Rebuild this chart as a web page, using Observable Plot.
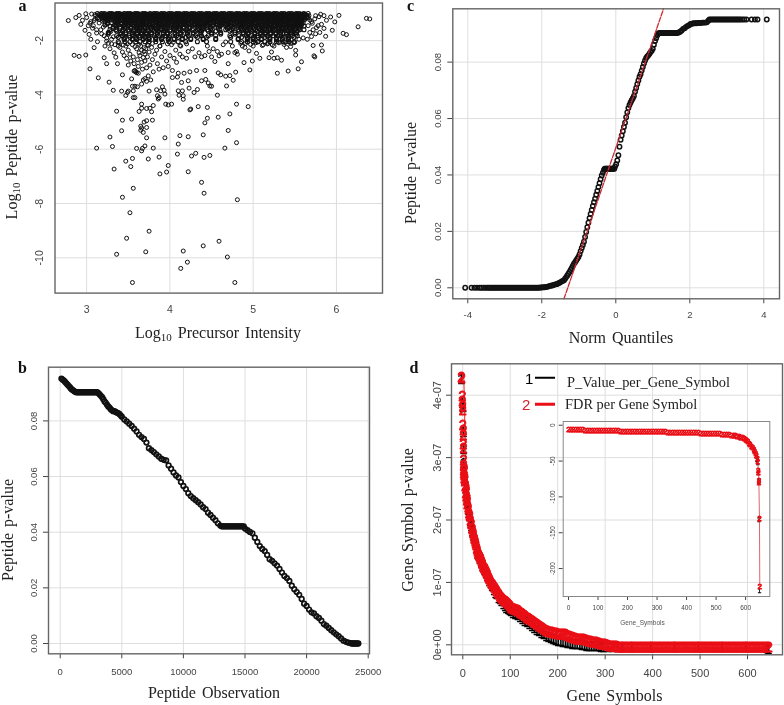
<!DOCTYPE html>
<html><head><meta charset="utf-8">
<script src="https://cdn.jsdelivr.net/npm/d3@7"></script>
<script src="https://cdn.jsdelivr.net/npm/@observablehq/plot@0.6"></script>
<style>
html,body{margin:0;padding:0;background:#fff}
#root{position:relative;width:784px;height:705px;overflow:hidden;background:#fff;filter:blur(.35px)}
#root>svg,#root>figure{position:absolute;margin:0;background:transparent}
.lab{position:absolute;font-family:"Liberation Serif",serif;font-size:16px;color:#222;white-space:nowrap;line-height:1;transform:translate(-50%,-50%);word-spacing:2px}
.lab.r{transform:translate(-50%,-50%) rotate(-90deg)}
.lab sub{font-size:11px;vertical-align:-3px;line-height:0}
.let{position:absolute;font-family:"Liberation Serif",serif;font-weight:bold;font-size:16px;color:#111;line-height:.6;transform:translateX(-50%)}
.leg{position:absolute;line-height:1;white-space:nowrap;transform:translateY(-50%)}
.bar{position:absolute;height:2.5px;transform:translateY(-50%)}
</style></head><body><div id="root"></div>
<script>
// ---------- panel a: sparse points
const aX=[2.78,2.85,2.91,2.99,3.04,3.14,3.27,3.32,3.42,3.47,3.50,3.36,3.43,3.54,3.42,3.28,3.31,3.12,3.33,3.47,3.55,3.53,3.60,3.66,3.67,3.70,3.74,3.80,3.72,3.87,3.88,3.96,3.98,3.94,4.09,4.10,4.12,4.22,4.22,4.26,4.31,4.40,4.41,4.48,4.38,4.41,4.66,4.70,4.80,4.81,4.58,4.45,4.42,4.72,4.80,4.94,4.45,4.34,4.24,4.25,3.56,3.43,3.52,3.75,3.48,3.36,3.71,3.55,4.78,4.13,4.21,4.16,4.40,4.59,4.69,
3.66,3.66,3.63,3.72,3.76,3.80,3.78,3.69,3.72,3.79,3.65,3.66,3.72,3.68,3.65,
3.56,3.58,3.58,3.54,3.43,3.49,3.61,3.56,3.55,3.75,3.84,3.89,3.85,3.87,3.86,3.91,3.93,3.94,3.95,3.98,4.02,4.10,4.15,4.11,4.16,4.16,4.23,4.22,4.14,4.03,4.09,4.29,4.33,4.38,4.43,4.46,4.48,4.50,4.57,4.68,4.58,4.61,4.67,4.72,4.76,4.79,4.96,5.29,5.42,5.54,5.58,5.73,5.74,5.83,5.82,5.72,5.51,5.51,5.45,5.38,5.34,5.29,5.25,5.19,5.22,5.08,5.04,4.99,4.89,4.95,4.87,4.70,4.54,4.59,4.62,4.78,4.81,4.70,
6.03,6.08,6.12,6.26,6.36,6.40,5.98,5.95,5.87,5.93,5.81,5.75,5.67,
2.91,2.87,2.99,2.93,2.98,3.03,3.05,3.09,3.13,3.21,3.24,3.37,3.35,3.38,
3.22,3.28,3.30,3.33,3.40,3.43,3.45,3.47,3.48,3.50,3.50,3.52,3.53,3.55,3.56,3.57,3.58,3.59,3.60,3.57,3.60,3.61,3.62,3.63,3.64,3.65,3.66,3.66,3.67,3.68,3.69,3.70,3.70,3.71,3.72,3.73,3.73,3.74,3.75,3.76,3.77,3.78,3.79,3.80,3.70,3.72,3.68,3.66,3.62,
3.82,3.84,3.85,3.87,3.88,3.90,3.92,3.94,3.96,3.98,4.00,4.02,4.03,4.05,4.07,4.08,4.10,4.12,4.13,4.15,4.17,4.20,4.22,4.24,4.27,4.30,4.32,4.35,4.38,4.42,4.42,4.45,4.47,4.50,4.52,4.57,4.64,4.67,4.75,4.80,4.85,4.90,5.00,5.05,5.12,5.18,5.25,5.30,5.40,5.45,5.50,5.55,5.60,5.65,5.70,5.75,5.80,5.85,5.78,5.72,5.68,5.82,5.88,5.74,5.79,5.85,5.70,5.66,
2.95,3.00,3.05,3.08,3.12,3.15,3.18,3.20,3.24,3.27,3.30,3.02,3.10,
3.06,3.11,3.09,3.04,3.07,3.12,3.10,3.17,3.21,3.19,3.24,3.29,3.26,3.32,3.34,3.39,3.44,3.49,3.58,3.63,3.69,3.74,3.79,3.88,3.97,4.04,4.12,4.20,4.91,4.97,5.03,5.11,5.17,5.23,5.31,5.37,5.43,5.49,5.68,5.71,5.76];
const aY=[-1.26,-2.54,-2.58,-2.53,-3.04,-3.37,-3.53,-3.83,-3.86,-4.02,-3.86,-4.60,-4.93,-4.89,-5.32,-5.55,-5.90,-5.96,-6.73,-6.44,-6.34,-6.64,-5.97,-6.06,-5.97,-5.88,-6.36,-5.96,-5.58,-6.29,-6.91,-6.84,-6.60,-5.58,-6.18,-5.81,-5.50,-5.54,-6.83,-6.25,-6.15,-5.47,-6.30,-6.23,-7.22,-7.62,-5.96,-5.31,-5.76,-7.86,-4.82,-4.86,-5.03,-4.70,-4.34,-4.43,-4.46,-4.43,-4.55,-4.52,-7.44,-7.77,-8.34,-9.02,-9.28,-9.87,-9.78,-10.91,-10.91,-10.39,-10.16,-9.75,-9.56,-9.39,-9.97,
-4.34,-4.49,-4.61,-4.50,-4.49,-4.39,-4.62,-5.00,-4.95,-4.93,-5.15,-5.22,-5.20,-5.38,-5.30,
-4.10,-4.10,-3.68,-3.41,-3.26,-3.91,-3.70,-3.85,-3.68,-3.86,-3.81,-3.85,-4.03,-4.10,-4.15,-3.70,-3.83,-3.97,-4.34,-4.37,-4.34,-3.85,-3.85,-4.01,-4.03,-4.16,-3.75,-3.48,-3.54,-3.36,-3.34,-3.91,-3.80,-3.48,-3.43,-3.56,-3.67,-3.68,-4.01,-3.67,-3.19,-3.26,-3.31,-3.29,-3.46,-3.16,-3.08,-3.20,-3.12,-3.04,-2.78,-2.56,-2.60,-2.38,-2.16,-2.18,-2.53,-2.36,-2.22,-2.07,-2.72,-2.63,-2.65,-2.63,-2.42,-2.65,-2.47,-2.75,-2.81,-2.38,-2.20,-2.85,-2.77,-2.56,-2.50,-2.44,-2.50,-2.44,
-1.07,-1.73,-1.78,-1.49,-1.18,-1.20,-1.31,-1.62,-1.84,-1.13,-1.03,-1.08,-1.08,
-1.07,-1.15,-1.01,-1.40,-1.62,-1.77,-1.95,-2.26,-2.04,-2.63,-2.85,-2.85,-2.61,-2.20,
-2.20,-2.30,-2.12,-2.45,-2.25,-2.42,-2.55,-2.20,-2.65,-2.35,-2.90,-2.50,-2.75,-2.15,-2.60,-2.85,-3.10,-3.15,-3.18,-3.12,-2.30,-2.70,-2.95,-2.45,-2.55,-2.20,-2.35,-2.80,-3.05,-2.62,-2.40,-2.50,-2.75,-2.30,-3.00,-2.15,-2.60,-3.30,-2.42,-2.90,-3.45,-2.25,-2.70,-3.15,-3.40,-3.50,-3.45,-3.60,-3.20,
-2.50,-2.35,-2.85,-3.05,-2.20,-2.60,-3.00,-2.40,-2.75,-2.95,-2.55,-2.15,-3.10,-2.65,-2.35,-2.80,-3.20,-2.50,-2.20,-2.60,-3.20,-2.65,-2.40,-3.15,-2.30,-2.60,-3.10,-2.45,-2.60,-3.10,-2.55,-2.20,-2.40,-2.60,-2.30,-2.40,-2.15,-2.05,-2.20,-2.40,-2.10,-2.25,-2.20,-2.05,-2.15,-2.10,-2.20,-2.05,-2.25,-2.10,-2.05,-1.95,-1.90,-1.95,-1.85,-1.75,-1.70,-1.55,-1.45,-1.60,-1.70,-1.40,-1.25,-1.20,-1.12,-1.08,-1.30,-1.45,
-1.25,-1.15,-1.30,-1.45,-1.60,-1.35,-1.75,-1.50,-1.90,-1.70,-1.95,-1.45,-1.20,
-1.02,-1.08,-1.26,-1.36,-1.54,-1.72,-1.04,-1.60,-1.82,-1.28,-2.02,-1.66,-2.10,-1.86,-2.15,-2.08,-2.16,-2.12,-2.22,-2.14,-2.26,-2.18,-2.10,-2.20,-2.12,-2.06,-2.18,-2.12,-2.10,-2.14,-2.08,-2.18,-2.12,-2.16,-2.08,-2.14,-2.02,-2.08,-1.24,-1.36,-1.52];
// panel a: the crowded band at the top, lists of intensities per p-value level
const bandY=[-1.00,-1.04,-1.08,-1.13,-1.18,-1.24,-1.31,-1.38,-1.46,-1.55,-1.65,-1.76,-1.88,-1.96];
const bandX=[
[3.13,3.18,3.21,3.27,3.30,3.36,3.39,3.45,3.49,3.52,3.58,3.61,3.67,3.70,3.76,3.81,3.84,3.90,3.93,3.99,4.02,4.08,4.11,4.17,4.20,4.26,4.29,4.35,4.38,4.44,4.47,4.53,4.56,4.62,4.65,4.71,4.74,4.80,4.83,4.89,4.92,4.98,5.01,5.07,5.10,5.16,5.19,5.25,5.28,5.34,5.37,5.43,5.46,5.52,5.55,5.61,5.66],
[3.15,3.20,3.25,3.28,3.34,3.37,3.42,3.47,3.50,3.55,3.60,3.64,3.68,3.73,3.78,3.82,3.87,3.91,3.96,4.00,4.05,4.09,4.14,4.18,4.23,4.27,4.32,4.36,4.41,4.45,4.50,4.54,4.59,4.63,4.68,4.72,4.77,4.81,4.86,4.90,4.95,4.99,5.04,5.08,5.13,5.17,5.22,5.26,5.31,5.35,5.40,5.44,5.49,5.53,5.58,5.62],
[3.17,3.23,3.29,3.32,3.38,3.41,3.46,3.51,3.54,3.59,3.63,3.69,3.72,3.77,3.80,3.86,3.89,3.95,3.98,4.04,4.07,4.13,4.16,4.22,4.25,4.31,4.34,4.40,4.43,4.49,4.52,4.58,4.61,4.67,4.70,4.76,4.79,4.85,4.88,4.94,4.97,5.03,5.06,5.12,5.15,5.21,5.24,5.30,5.33,5.39,5.42,5.48,5.51,5.57,5.60],
[3.19,3.24,3.31,3.35,3.40,3.44,3.48,3.53,3.57,3.62,3.66,3.71,3.75,3.79,3.83,3.88,3.92,3.97,4.01,4.06,4.10,4.15,4.19,4.24,4.28,4.33,4.37,4.42,4.46,4.51,4.55,4.60,4.64,4.69,4.73,4.78,4.82,4.87,4.91,4.96,5.00,5.05,5.09,5.14,5.18,5.23,5.27,5.32,5.36,5.41,5.45,5.50,5.54,5.59,5.64],
[3.22,3.26,3.33,3.39,3.43,3.50,3.56,3.60,3.65,3.70,3.74,3.81,3.85,3.90,3.94,4.00,4.03,4.09,4.12,4.18,4.21,4.27,4.30,4.36,4.39,4.45,4.48,4.54,4.57,4.63,4.66,4.72,4.75,4.81,4.84,4.90,4.93,4.99,5.02,5.08,5.11,5.17,5.20,5.26,5.29,5.35,5.38,5.44,5.47,5.53,5.56],
[3.25,3.30,3.36,3.41,3.47,3.52,3.58,3.63,3.68,3.72,3.78,3.84,3.88,3.93,3.99,4.05,4.10,4.16,4.21,4.26,4.32,4.37,4.43,4.48,4.53,4.59,4.64,4.70,4.75,4.80,4.86,4.91,4.97,5.02,5.07,5.13,5.18,5.24,5.29,5.34,5.40,5.45,5.51,5.55,5.60],
[3.22,3.34,3.38,3.45,3.49,3.55,3.61,3.66,3.71,3.76,3.82,3.87,3.92,3.98,4.03,4.08,4.14,4.19,4.25,4.30,4.35,4.41,4.46,4.52,4.57,4.62,4.68,4.73,4.79,4.84,4.89,4.95,5.00,5.06,5.11,5.16,5.22,5.27,5.33,5.38,5.43,5.49,5.54,5.58],
[3.25,3.37,3.42,3.48,3.54,3.59,3.65,3.69,3.75,3.80,3.86,3.91,3.97,4.02,4.07,4.13,4.18,4.23,4.29,4.36,4.42,4.47,4.55,4.61,4.66,4.71,4.77,4.83,4.88,4.94,4.98,5.04,5.10,5.15,5.21,5.28,5.32,5.37,5.42,5.48,5.52,5.57],
[3.28,3.35,3.44,3.50,3.57,3.62,3.67,3.73,3.79,3.84,3.90,3.96,4.01,4.06,4.12,4.20,4.27,4.33,4.39,4.45,4.51,4.60,4.67,4.74,4.82,4.87,4.92,4.97,5.03,5.09,5.14,5.20,5.25,5.31,5.36,5.41,5.46,5.50,5.56,5.61],
[3.32,3.40,3.46,3.53,3.60,3.64,3.70,3.77,3.83,3.89,3.95,4.04,4.11,4.17,4.24,4.34,4.40,4.49,4.58,4.69,4.76,4.85,4.90,4.96,5.01,5.07,5.12,5.19,5.23,5.30,5.35,5.39,5.44,5.48,5.55],
[3.36,3.43,3.51,3.56,3.63,3.68,3.74,3.81,3.86,3.94,4.00,4.08,4.15,4.22,4.31,4.38,4.46,4.55,4.72,4.83,4.92,4.98,5.05,5.11,5.17,5.24,5.30,5.34,5.42,5.47,5.53],
[3.26,3.41,3.47,3.55,3.61,3.66,3.72,3.78,3.85,3.92,3.97,4.06,4.13,4.21,4.28,4.37,4.50,4.61,4.78,4.88,4.94,5.02,5.09,5.15,5.21,5.27,5.33,5.40,5.46,5.52],
[3.38,3.46,3.52,3.59,3.64,3.70,3.75,3.83,3.91,3.99,4.10,4.19,4.33,4.44,4.73,4.86,4.93,5.00,5.06,5.14,5.20,5.28,5.36,5.43,5.49],
[3.45,3.55,3.60,3.68,3.75,3.83,3.90,3.98,4.05,4.15,4.25,4.40,4.55,4.82,4.93,5.00,5.10,5.20,5.28,5.35,5.42]
];
// second set of levels between the first ones; each level reuses one of the lists above
const band2Y=[-1.02,-1.06,-1.10,-1.155,-1.21,-1.27,-1.345,-1.42,-1.50,-1.60,-1.70,-1.82,-1.92,-2.04];
const band2Row=[2,3,4,0,1,7,5,6,9,8,11,10,13,12];
const aTicksX=[3,4,5,6], aTicksY=[-2,-4,-6,-8,-10];

// ---------- panel b
const bX=[100,200,300,400,500,600,700,800,900,1000,1100,1200,1300,1400,1500,1600,1700,1800,1900,2000,2100,2200,2300,2400,2500,2600,2700,2800,2900,3000,
3100,3200,3300,3400,3500,3600,3700,3800,3900,4000,4100,4200,4300,4400,4500,4600,4700,4800,4900,5000,
5200,5400,5600,5800,6000,6200,6400,6600,6800,7000,7200,7400,7600,7800,8000,8200,8400,8600,8800,9000,
9200,9400,9600,9800,10000,10200,10400,10600,10800,11000,11200,11400,11600,11800,12000,12200,12400,12600,12800,13000,
13100,13200,13300,13400,13500,13600,13700,13800,13900,14000,14100,14200,14300,14400,14500,14600,14700,14800,14900,
15000,15200,15400,15600,15800,16000,16200,16400,16600,16800,17000,17200,17400,17600,17800,18000,18200,18400,18600,18800,
19000,19200,19400,19600,19800,20000,20200,20400,20600,20800,21000,21200,21400,21600,21800,22000,22200,22400,22600,22800,
23000,23200,23400,23600,23700,23800,23900,24000,24100,24200];
const bY=[.0952,.0948,.0945,.0940,.0935,.0930,.0925,.0920,.0915,.0911,.0908,.0905,.0903,.0903,.0903,.0903,.0903,.0903,.0903,.0903,.0903,.0903,.0903,.0903,.0903,.0903,.0903,.0903,.0903,.0903,
.0900,.0895,.0890,.0885,.0878,.0870,.0865,.0858,.0852,.0848,.0842,.0838,.0835,.0835,.0832,.0830,.0828,.0825,.0820,.0815,
.0805,.0798,.0790,.0782,.0772,.0762,.0750,.0742,.0735,.0722,.0702,.0695,.0688,.0680,.0672,.0664,.0660,.0658,.0640,.0628,
.0615,.0604,.0597,.0580,.0566,.0555,.0540,.0530,.0522,.0515,.0508,.0500,.0490,.0483,.0470,.0462,.0452,.0443,.0432,.0424,
.0421,.0421,.0421,.0421,.0421,.0421,.0421,.0421,.0421,.0421,.0421,.0421,.0421,.0421,.0421,.0421,.0421,.0421,.0421,
.0413,.0407,.0401,.0396,.0380,.0365,.0350,.0340,.0332,.0318,.0303,.0297,.0288,.0280,.0268,.0255,.0243,.0235,.0225,.0208,
.0195,.0185,.0175,.0160,.0143,.0135,.0122,.0112,.0108,.0098,.0092,.0082,.0070,.0064,.0056,.0048,.0040,.0033,.0026,.0018,
.0010,.0006,.0003,.0001,0,0,0,0,0,0];
const bTicksX=[0,5000,10000,15000,20000,25000], pTicks=[0,.02,.04,.06,.08];

// ---------- panel c
const cQ=[-4.07,-3.9,-3.82,-3.75,-3.68,-3.63,-3.58,-3.53,-3.48,-3.44,-3.4,-3.36,-3.32,-3.28,-3.24,-3.2,-3.16,-3.12,-3.08,-3.04,
-3,-2.96,-2.92,-2.88,-2.84,-2.8,-2.76,-2.72,-2.68,-2.64,-2.6,-2.56,-2.52,-2.48,-2.44,-2.4,-2.36,-2.32,-2.28,-2.24,
-2.2,-2.16,-2.12,-2.08,-2.04,-2,-1.96,-1.92,-1.88,-1.84,-1.8,-1.76,-1.72,-1.68,-1.64,-1.6,-1.56,-1.52,-1.48,-1.44,
-1.4,-1.37,-1.34,-1.31,-1.28,-1.25,-1.22,-1.19,-1.16,-1.13,-1.1,-1.07,-1.04,-1.01,-.98,-.95,-.92,-.89,-.86,-.83,
-.8,-.77,-.74,-.71,-.68,-.65,-.62,-.59,-.56,-.53,-.5,-.47,-.44,-.41,-.38,-.35,-.32,-.3,-.28,-.26,
-.24,-.22,-.2,-.18,-.16,-.14,-.12,-.1,-.08,-.06,-.04,-.02,.01,.04,.07,.1,.13,.16,.19,.22,.25,
.28,.31,.34,.37,.4,.43,.46,.49,.52,.55,.58,.61,.64,.67,.7,.73,.76,.79,.82,.85,
.88,.91,.94,.97,1,1.03,1.06,1.09,1.12,1.15,1.18,1.22,1.26,1.3,1.34,1.38,1.42,1.46,1.5,1.54,1.58,1.62,1.66,
1.7,1.74,1.78,1.82,1.86,1.9,1.94,1.98,2.02,2.06,2.1,2.14,2.18,2.22,2.26,2.3,2.34,2.38,2.42,2.46,2.5,2.53,
2.57,2.61,2.65,2.69,2.73,2.77,2.81,2.85,2.89,2.93,2.97,3.01,3.05,3.09,3.13,3.17,3.21,3.25,3.29,3.33,3.37,3.42,3.47,3.53,3.67,3.76,3.83,4.08];
const cP=[0,0,0,0,0,0,0,0,0,0,0,0,0,0,0,0,0,0,0,0,
0,0,0,0,0,0,0,0,0,0,0,0,0,0,0,0,0,0,0,0,
0,0,0,0,.0001,.0001,.0002,.0002,.0003,.0004,.0006,.0007,.0008,.0010,.0012,.0013,.0015,.0018,.0021,.0024,
.0027,.0032,.0038,.0044,.0050,.0056,.0063,.0070,.0078,.0085,.0091,.0097,.0103,.0109,.0118,.0130,.0141,.0152,.0163,.0180,
.0198,.0215,.0231,.0247,.0262,.0276,.0290,.0303,.0316,.0330,.0343,.0357,.0371,.0385,.0398,.0408,.0418,.0422,.0422,.0422,
.0422,.0422,.0422,.0422,.0422,.0422,.0422,.0422,.0422,.0422,.0422,.0430,.0438,.0451,.0470,.0500,.0525,.0540,.0555,.0570,.0585,
.0605,.0622,.0637,.0648,.0657,.0665,.0672,.0680,.0695,.0708,.0722,.0735,.0748,.0757,.0770,.0783,.0795,.0806,.0815,.0820,
.0824,.0830,.0836,.0840,.0847,.0862,.0875,.0885,.0895,.0902,.0903,.0903,.0903,.0903,.0903,.0903,.0903,.0903,.0903,.0903,.0903,.0903,.0903,
.0905,.0908,.0912,.0918,.0920,.0925,.0928,.0931,.0935,.0936,.0938,.0938,.0938,.0939,.0939,.0939,.0940,.0940,.0940,.0941,.0947,.0951,
.0951,.0951,.0951,.0951,.0951,.0951,.0951,.0951,.0951,.0951,.0951,.0951,.0951,.0951,.0951,.0951,.0951,.0951,.0951,.0951,.0951,.0951,.0951,.0951,.0951,.0951,.0951,.0951];
const cLineQ=[-1.4,1.29], cLineP=[-.0039,.0989];
const cTicksX=[-4,-2,0,2,4];

// ---------- panel d (p-values in units of 1e-7)
const dRedX=[1,2,3,3,4,4,4,5,5,5,6,6,6,6,6,7,7,7,8,8,9,9,10,10,11,11,12,12,13,13,14,15,16,17,18,19,20,21,22,23,24,25,26,27,28,29,30,31,32,33,34,35,36,37,38,39,40,41,42,43,44,45,46,47,48,49,50,51,52,53,54,55,56,57,58,59,60,62,64,66,
68,70,72,74,76,78,80,82,84,86,88,90,92,94,96,98,100,102,104,106,108,110,112,114,116,118,120,122,124,126,128,130,133,136,139,142,145,148,151,154,
157,160,163,166,169,172,175,178,181,184,187,190,193,196,199,202,205,208,211,214,217,220,223,226,229,232,235,238,241,244,247,250,253,256,259,262,265,268,271,274,
277,280,283,286,289,292,295,298,301,304,307,310,313,316,319,322,325,328,331,334,338,342,346,350,354,358,362,366,370,374,378,382,386,390,394,398,402,406,410,414,
418,422,426,430,434,438,442,446,450,454,458,462,466,470,474,478,482,486,490,494,498,502,506,510,514,518,522,526,530,534,538,542,546,550,554,558,562,566,570,574,
578,582,586,590,594,598,602,606,610,614,618,622,626,630,634,638,642,646,649];
const dRedY=[4.33,4.31,4.03,3.95,3.87,3.80,3.56,3.48,3.40,3.26,3.20,3.00,2.92,2.84,2.80,2.88,2.76,2.72,2.84,2.66,2.70,2.58,2.60,2.48,2.55,2.42,2.50,2.36,2.40,2.30,2.34,2.25,2.22,2.15,2.12,2.10,2.05,2.00,1.98,1.92,1.90,1.85,1.83,1.80,1.76,1.74,1.70,1.68,1.64,1.60,1.58,1.55,1.52,1.50,1.48,1.46,1.45,1.43,1.41,1.39,1.37,1.35,1.33,1.31,1.29,1.28,1.27,1.25,1.23,1.22,1.20,1.19,1.17,1.15,1.13,1.11,1.10,1.07,1.04,1.02,
1.00,.97,.95,.92,.90,.87,.85,.83,.81,.79,.78,.76,.75,.74,.73,.71,.70,.68,.66,.64,.63,.62,.61,.61,.60,.60,.60,.59,.57,.56,.55,.54,.52,.50,.48,.47,.45,.44,.42,.40,
.39,.38,.36,.35,.33,.31,.30,.28,.27,.26,.25,.24,.24,.23,.23,.23,.22,.22,.22,.21,.21,.21,.20,.19,.18,.17,.16,.15,.15,.14,.14,.13,.13,.13,.13,.12,.12,.11,.10,.10,
.09,.09,.08,.08,.07,.07,.06,.06,.05,.05,.04,.04,.03,.03,.03,.02,.02,.02,.01,.01,.01,.01,.01,.01,0,0,0,0,0,0,0,0,0,0,0,0,0,0,0,0,
0,0,0,0,0,0,0,0,0,0,0,0,0,0,0,0,0,0,0,0,0,0,0,0,0,0,0,0,0,0,0,0,0,0,0,0,0,0,0,0,
0,0,0,0,0,0,0,0,0,0,0,0,0,0,0,0,0,0,0];
const dBlackX=[1,3,4,5,6,6,7,8,10,12,14,16,18,20,22,24,27,30,33,36,40,43,46,50,53,56,60,63,66,70,73,76,80,83,86,90,93,96,100,103,106,110,115,120,125,130,135,140,145,150,155,160,165,170,175,180,185,190,195,200,205,210,215,220,225,230,235,240,245,250,255,260,265,270,275,280,285,290,295,300,310,320,330,340,360,400,450,500,550,600,645,648];
const dBlackY=[4.30,3.92,3.85,3.45,3.18,2.95,2.80,2.70,2.55,2.44,2.32,2.20,2.10,2.02,1.95,1.87,1.78,1.67,1.58,1.50,1.42,1.36,1.30,1.24,1.19,1.14,1.07,1.03,.98,.92,.88,.85,.80,.77,.74,.70,.67,.64,.62,.60,.58,.56,.54,.52,.49,.46,.43,.40,.37,.34,.31,.28,.26,.23,.21,.19,.17,.15,.13,.12,.11,.10,.09,.08,.07,.07,.06,.06,.05,.05,.04,.04,.03,.03,.03,.02,.02,.02,.01,.01,.01,.01,0,0,0,0,0,0,0,0,-.01,-.02];
const dTicksX=[0,100,200,300,400,500,600], dTicksY=[0,1,2,3,4];
const dTickLabels=["0e+00","1e-07","2e-07","3e-07","4e-07"];

// ---------- inset of panel d
const iRedX=[0,8,16,24,32,40,48,56,64,72,80,88,96,104,112,120,128,136,144,152,160,168,176,184,192,200,208,216,224,232,240,248,256,264,272,280,288,296,304,312,320,328,336,344,352,360,368,376,384,392,400,408,416,424,432,440,448,456,464,472,480,488,496,504,512,520,528,536,544,552,560,566,572,578,584,590,595,600,604,608,612,616,620,624,628,631,634,637,640,641,643,644,645,645,647,648];
const iRedY=[-6,-6,-6,-6.2,-6.3,-6.4,-6.5,-6.6,-6.7,-6.8,-6.9,-7,-7,-7.1,-7.2,-7.3,-7.4,-7.5,-7.6,-7.7,-7.8,-7.9,-8,-8,-8.1,-8.2,-8.3,-8.3,-8.4,-8.5,-8.6,-8.6,-8.7,-8.8,-8.9,-8.9,-9,-9,-9.1,-9.2,-9.2,-9.3,-9.4,-9.5,-9.5,-9.6,-9.7,-9.8,-9.9,-10,-10.1,-10.2,-10.3,-10.4,-10.5,-10.7,-10.8,-10.9,-11,-11.2,-11.3,-11.5,-11.7,-11.9,-12.1,-12.3,-12.5,-12.8,-13.2,-13.7,-14.3,-14.7,-15.2,-15.8,-16.5,-17.5,-18.5,-20,-21.5,-23,-25,-27,-29,-31,-34,-36,-39,-42,-46,-50,-63,-66,-77,-80,-130,-225];
const iBlackX=[560,580,600,610,620,628,634,638,641,643,644,645,647];
const iBlackY=[-14.8,-16.8,-20.5,-26,-30,-36,-42,-48,-52,-66,-79,-132,-231];
const iTicksX=[0,100,200,300,400,500,600], iTicksY=[0,-50,-100,-150,-200];

// ---------- drawing
const root=document.getElementById("root");
const SANS='"Liberation Sans",Arial,sans-serif';
const frameColor="#666", gridColor="#dedede", tickColor="#444", RED="#ea0f16";

function panel(o){
  const svg=Plot.plot({
    width:o.w,height:o.h,marginLeft:o.ml,marginRight:o.mr,marginTop:o.mt,marginBottom:o.mb,
    x:{domain:o.xd,label:null},y:{domain:o.yd,label:null},
    style:{fontFamily:SANS,background:"transparent",color:tickColor,overflow:"visible"},
    marks:[
      ...(o.grid===false?[]:[Plot.ruleX(o.tx,{stroke:gridColor,strokeWidth:1}),Plot.ruleY(o.ty,{stroke:gridColor,strokeWidth:1})]),
      Plot.axisX({ticks:o.tx,tickSize:o.ts,tickPadding:o.xpad,fontSize:o.fs,label:null,tickFormat:o.xf||(d=>String(d)),stroke:tickColor}),
      Plot.axisY({ticks:o.ty,tickSize:o.ts,tickPadding:o.ypad,fontSize:o.fs,label:null,tickRotate:-90,tickFormat:o.yf,stroke:tickColor}),
      ...o.marks,
      Plot.frame({stroke:o.frame||frameColor,strokeWidth:o.fw||1.4})
    ]
  });
  svg.style.left=o.x+"px";svg.style.top=o.y+"px";
  root.appendChild(svg);
}
function html(cls,txt,x,y,extra){
  const d=document.createElement("div");d.className=cls;d.innerHTML=txt;
  d.style.left=x+"px";d.style.top=y+"px";
  if(extra)Object.assign(d.style,extra);
  root.appendChild(d);return d;
}
const ring=(X,Y,r,sw)=>Plot.dot(X,{x:X,y:Y,r:r,stroke:"#111",strokeWidth:sw,fill:"none"});
const glyphs=(X,Y,ch,fs,fill,sw,dx,dy)=>Plot.text(X,{x:X,y:Y,text:()=>ch,dx,dy,fontSize:fs,fill,stroke:fill,strokeWidth:sw,fontFamily:SANS});
const band1X=bandX.flat(), band1Y=bandX.flatMap((xs,i)=>xs.map(()=>bandY[i]));
const band2X=band2Row.flatMap(k=>bandX[k]), band2Yv=band2Row.flatMap((k,i)=>bandX[k].map(()=>band2Y[i]));

// a
panel({x:0,y:0,w:392,h:345,ml:54.5,mr:10,mt:2.5,mb:52.4,xd:[2.62,6.553],yd:[-11.3,-.614],
  tx:aTicksX,ty:aTicksY,ts:0,xpad:12,ypad:12,fs:10.5,yf:d=>String(d),
  marks:[ring(band1X,band1Y,2,1.1),ring(band2X,band2Yv,2,1.1),ring(aX,aY,2,1)]});
// b
panel({x:0,y:350,w:392,h:355,ml:48,mr:23,mt:16.7,mb:51.7,xd:[-950,25106],yd:[-.0037,.0993],
  tx:bTicksX,ty:pTicks,ts:5,xpad:9,ypad:7,fs:9.5,yf:d=>d3.format(".2f")(d),
  marks:[ring(bX,bY,2.3,1.7)]});
// c
panel({x:392,y:0,w:392,h:345,ml:60.3,mr:5,mt:8.3,mb:46.7,xd:[-4.405,4.424],yd:[-.0039,.0989],
  tx:cTicksX,ty:pTicks,ts:5,xpad:7,ypad:7,fs:9.5,yf:d=>d3.format(".2f")(d),
  marks:[ring(cQ,cP,2.2,1.5),Plot.line(cLineQ,{x:cLineQ,y:cLineP,stroke:"#cc2a30",strokeWidth:1.3,strokeDasharray:"5,1.5"})]});
// d
panel({x:392,y:350,w:392,h:355,ml:59,mr:2,mt:13.3,mb:50.7,xd:[-23.8,673.7],yd:[-.16,4.503],
  tx:dTicksX,ty:dTicksY,ts:5,xpad:9,ypad:6,fs:11,yf:d=>dTickLabels[dTicksY.indexOf(d)],
  marks:[
    glyphs(dBlackX,dBlackY,"1",14.5,"#000",.4,-2,3),
    Plot.line(dRedX,{x:dRedX,y:dRedY,stroke:RED,strokeWidth:.9}),
    glyphs(dRedX,dRedY,"2",14.5,RED,.8,-2,3)
  ]});
// inset
panel({x:540,y:410,w:244,h:230,ml:22.7,mr:14.7,mt:11,mb:44,xd:[-18,682],yd:[-239,5.2],
  tx:iTicksX,ty:iTicksY,ts:4,xpad:5,ypad:4,fs:6.5,yf:d=>String(d),grid:false,frame:"#888",fw:1,
  marks:[
    glyphs(iBlackX,iBlackY,"1",7,"#000",.3,0,0),
    Plot.line(iRedX,{x:iRedX,y:iRedY,stroke:"#d0242a",strokeWidth:.7}),
    glyphs(iRedX,iRedY,"2",8,RED,.8,0,0)
  ]});

// axis titles
html("lab","Log<sub>10</sub> Precursor Intensity",218,333);
html("lab r","Log<sub>10</sub> Peptide p-value",12,147);
html("lab","Peptide Observation",214,693);
html("lab r","Peptide p-value",7.5,530);
html("lab","Norm Quantiles",621,338);
html("lab r","Peptide p-value",410.5,173);
html("lab","Gene Symbols",614.5,695.5);
html("lab r","Gene Symbol p-value",408,520);
html("leg","Gene_Symbols",642.5,623,{fontFamily:SANS,fontSize:"6.5px",color:"#555",transform:"translate(-50%,-50%)"});
// panel letters
html("let","a",22.5,1);html("let","c",410.5,1);html("let","b",22.5,363);html("let","d",414,363);
// legend of panel d
html("leg","1",525,377.5,{fontFamily:SANS,fontSize:"15px",color:"#000"});
html("leg","2",522,404,{fontFamily:SANS,fontSize:"15px",color:"#d8202a"});
html("bar","",535,377.7,{width:"20px",background:"#000"});
html("bar","",535,404,{width:"20px",background:RED});
html("leg","P_Value_per_Gene_Symbol",567,381.5,{fontFamily:'"Liberation Serif",serif',fontSize:"14.4px",color:"#222"});
html("leg","FDR per Gene Symbol",565,404,{fontFamily:'"Liberation Serif",serif',fontSize:"14.4px",color:"#222"});
</script></body></html>
